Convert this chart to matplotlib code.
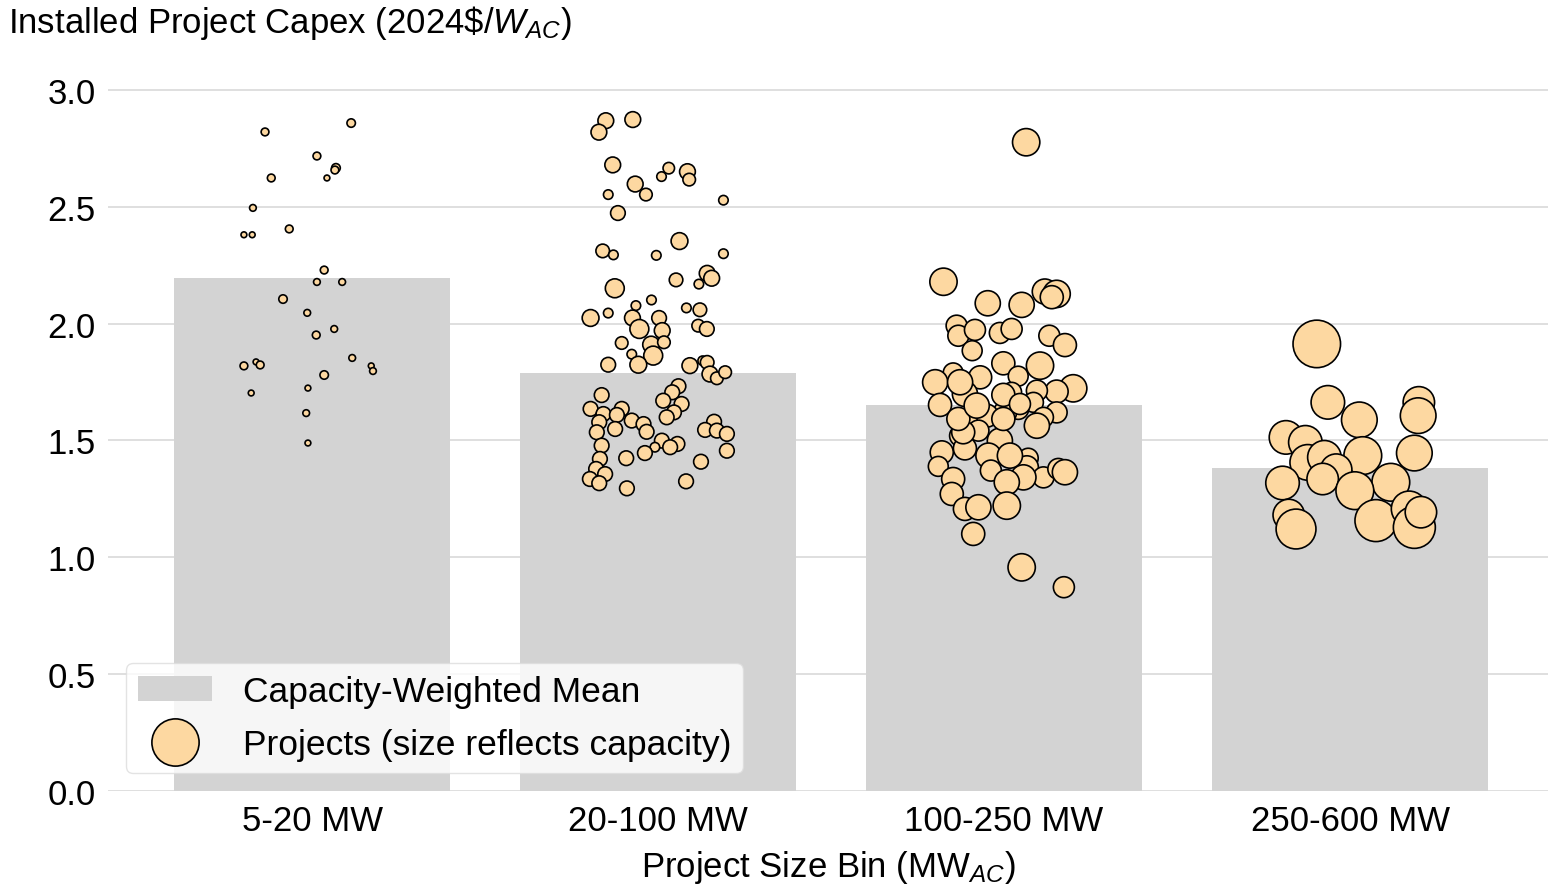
import numpy as np
import matplotlib
matplotlib.use("Agg")
import matplotlib.pyplot as plt
from matplotlib.lines import Line2D
from matplotlib.patches import Patch

plt.rcParams['font.family'] = ['Liberation Sans', 'DejaVu Sans']
plt.rcParams['mathtext.fontset'] = 'custom'
plt.rcParams['mathtext.rm'] = 'Liberation Sans'
plt.rcParams['mathtext.it'] = 'Liberation Sans:italic'

bins = ['5-20 MW', '20-100 MW', '100-250 MW', '250-600 MW']
weighted_mean = [2.195, 1.789, 1.652, 1.382]

# per-bin project points: horizontal jitter, capex ($/W), capacity (MW)
jit_1 = [-0.136, 0.113, 0.014, 0.069, 0.066, -0.118, 0.043, -0.171, -0.197, -0.173,
         -0.066, 0.035, 0.014, 0.087, -0.084, -0.014, 0.064, 0.012, -0.197, -0.162,
         -0.150, 0.116, 0.171, 0.176, 0.035, -0.176, -0.012, -0.017, -0.012]
capex_1 = [2.820, 2.858, 2.717, 2.666, 2.657, 2.623, 2.623, 2.495, 2.380, 2.380,
           2.405, 2.229, 2.178, 2.178, 2.105, 2.046, 1.977, 1.951, 1.819, 1.836,
           1.823, 1.853, 1.819, 1.797, 1.780, 1.703, 1.724, 1.617, 1.489]
mw_1 = [16, 19, 16, 20, 16, 16, 9, 12, 9, 9,
        16, 16, 12, 12, 19, 12, 12, 16, 16, 9,
        16, 12, 9, 12, 19, 9, 9, 12, 9]

jit_2 = [-0.151, -0.171, -0.073, -0.131, -0.066, -0.035, -0.144, 0.031, 0.010, 0.085,
         0.090, 0.189, -0.116, 0.062, -0.160, -0.129, -0.005, 0.189, 0.142, 0.155,
         0.118, 0.052, -0.125, -0.195, -0.144, -0.064, -0.019, -0.074, 0.003, 0.082,
         0.121, -0.054, 0.012, 0.116, 0.141, -0.105, -0.020, 0.017, -0.076, -0.014,
         -0.144, -0.057, 0.092, 0.129, 0.142, 0.150, 0.170, 0.194, 0.059, 0.041,
         0.015, 0.068, 0.046, 0.025, -0.163, -0.195, -0.105, -0.158, -0.119, -0.170,
         -0.076, -0.042, -0.177, -0.124, -0.033, 0.011, 0.056, 0.035, -0.009, -0.163,
         -0.038, -0.092, -0.168, 0.162, 0.136, 0.170, 0.199, 0.199, 0.124, -0.179,
         -0.153, -0.197, -0.170, 0.081, -0.090]
capex_2 = [2.868, 2.819, 2.873, 2.679, 2.597, 2.552, 2.552, 2.665, 2.629, 2.650,
           2.616, 2.528, 2.473, 2.353, 2.311, 2.294, 2.292, 2.299, 2.215, 2.194,
           2.169, 2.187, 2.151, 2.024, 2.045, 2.077, 2.101, 2.024, 2.024, 2.067,
           2.059, 1.977, 1.970, 1.991, 1.977, 1.917, 1.910, 1.920, 1.869, 1.863,
           1.824, 1.824, 1.820, 1.841, 1.834, 1.784, 1.766, 1.792, 1.732, 1.706,
           1.670, 1.656, 1.620, 1.599, 1.694, 1.635, 1.635, 1.613, 1.609, 1.578,
           1.585, 1.570, 1.535, 1.549, 1.537, 1.499, 1.485, 1.471, 1.471, 1.478,
           1.446, 1.424, 1.421, 1.580, 1.545, 1.542, 1.528, 1.456, 1.409, 1.378,
           1.356, 1.335, 1.317, 1.325, 1.295]
mw_2 = [66, 66, 66, 66, 66, 42, 24, 35, 24, 66,
        42, 24, 57, 75, 49, 24, 24, 24, 66, 66,
        24, 49, 95, 75, 24, 24, 24, 66, 57, 24,
        49, 95, 66, 42, 57, 42, 75, 42, 24, 95,
        57, 75, 66, 24, 49, 66, 42, 42, 57, 57,
        57, 57, 57, 57, 57, 57, 57, 57, 57, 57,
        57, 57, 57, 57, 57, 57, 57, 57, 24, 57,
        57, 57, 57, 57, 57, 57, 57, 57, 57, 57,
        57, 57, 57, 57, 57]

jit_3 = [0.064, -0.175, -0.047, 0.051, 0.118, 0.152, 0.138, -0.137, -0.132, -0.084,
         -0.012, 0.022, 0.131, 0.176, -0.092, -0.002, 0.104, -0.147, -0.199, -0.069,
         0.041, 0.200, 0.152, 0.095, 0.022, -0.113, -0.185, 0.085, 0.041, 0.152,
         0.003, -0.050, -0.108, 0.114, 0.095, -0.127, -0.012, -0.074, -0.180, -0.113,
         -0.045, -0.190, -0.038, 0.070, 0.066, 0.114, 0.157, 0.176, 0.056, 0.008,
         -0.147, -0.151, -0.113, -0.074, 0.008, -0.089, 0.051, 0.173,
         -0.002, -0.118, -0.132, -0.002, 0.046, -0.079, -0.127, 0.017]
capex_3 = [2.776, 2.179, 2.087, 2.080, 2.137, 2.127, 2.113, 1.991, 1.948, 1.973,
           1.960, 1.977, 1.948, 1.908, 1.884, 1.830, 1.820, 1.789, 1.749, 1.770,
           1.775, 1.723, 1.709, 1.713, 1.706, 1.699, 1.652, 1.663, 1.635, 1.620,
           1.620, 1.606, 1.585, 1.599, 1.563, 1.520, 1.499, 1.542, 1.449, 1.466,
           1.435, 1.389, 1.371, 1.424, 1.385, 1.342, 1.378, 1.364, 1.342, 1.321,
           1.335, 1.271, 1.207, 1.214, 1.221, 1.100, 0.957, 0.872,
           1.592, 1.535, 1.592, 1.695, 1.656, 1.649, 1.749, 1.435]
mw_3 = [198, 198, 168, 168, 168, 198, 141, 117, 117, 117,
        117, 117, 117, 141, 105, 141, 198, 105, 168, 141,
        105, 198, 141, 117, 105, 168, 141, 105, 117, 117,
        141, 141, 117, 105, 168, 117, 168, 117, 141, 141,
        168, 105, 117, 105, 141, 117, 117, 168, 168, 168,
        141, 141, 141, 168, 198, 141, 198, 117,
        141, 141, 141, 141, 117, 168, 168, 168]

jit_4 = [-0.096, -0.064, 0.027, 0.199, 0.197, -0.185, -0.129, 0.186, 0.037, -0.122,
         -0.074, -0.040, -0.079, 0.118, -0.195, 0.014, -0.177, -0.156, 0.075, 0.171,
         0.186, 0.205]
capex_4 = [1.913, 1.663, 1.588, 1.663, 1.606, 1.513, 1.492, 1.446, 1.435, 1.406,
           1.428, 1.375, 1.335, 1.321, 1.318, 1.285, 1.181, 1.121, 1.157, 1.207,
           1.128, 1.193]
mw_4 = [600, 299, 338, 263, 338, 299, 299, 338, 379, 338,
        299, 263, 263, 379, 299, 379, 263, 422, 468, 338,
        468, 263]

jitters = [jit_1, jit_2, jit_3, jit_4]
capexes = [capex_1, capex_2, capex_3, capex_4]
mws = [mw_1, mw_2, mw_3, mw_4]

bar_color = '#d3d3d3'
dot_color = '#fdd8a1'

fig = plt.figure(figsize=(15.51, 8.87), dpi=100)
ax = fig.add_axes([0.0696, 0.1071, 0.9284, 0.8168])

x = np.arange(len(bins))
ax.bar(x, weighted_mean, width=0.8, color=bar_color, zorder=2)

for i in range(len(bins)):
    xs = i + np.array(jitters[i])
    ax.scatter(xs, capexes[i], s=np.array(mws[i]) * 1.95, color=dot_color,
               edgecolor='black', linewidth=1.2, zorder=3)

ax.set_ylim(0, 3.1)
ax.set_xlim(-0.59, 3.572)
ax.set_yticks(np.arange(0, 3.01, 0.5))
ax.set_yticklabels(['%.1f' % v for v in np.arange(0, 3.01, 0.5)])
ax.set_xticks(x)
ax.set_xticklabels(bins)
ax.tick_params(axis='both', length=0, labelsize=25, pad=9)
ax.grid(axis='y', color='#dcdcdc', linewidth=1.3, zorder=0)
ax.set_axisbelow(True)
for sp in ax.spines.values():
    sp.set_visible(False)

ax.set_xlabel('Project Size Bin (MW$_{AC}$)', fontsize=25, labelpad=8)
fig.text(0.005, 0.995, 'Installed Project Capex (2024\\$/$W_{AC}$)',
         fontsize=25, ha='left', va='top')

handles = [Patch(facecolor=bar_color, edgecolor='none'),
           Line2D([], [], marker='o', linestyle='none', markersize=34,
                  markerfacecolor=dot_color, markeredgecolor='black', markeredgewidth=1.2)]
ax.legend(handles, ['Capacity-Weighted Mean', 'Projects (size reflects capacity)'],
          loc='lower left', fontsize=25.5, frameon=True, framealpha=0.8,
          edgecolor='#dddddd', handlelength=2.1, borderaxespad=0.5,
          labelspacing=0.56, borderpad=0.35, handletextpad=0.85)

fig.savefig('out.png', dpi=100)
